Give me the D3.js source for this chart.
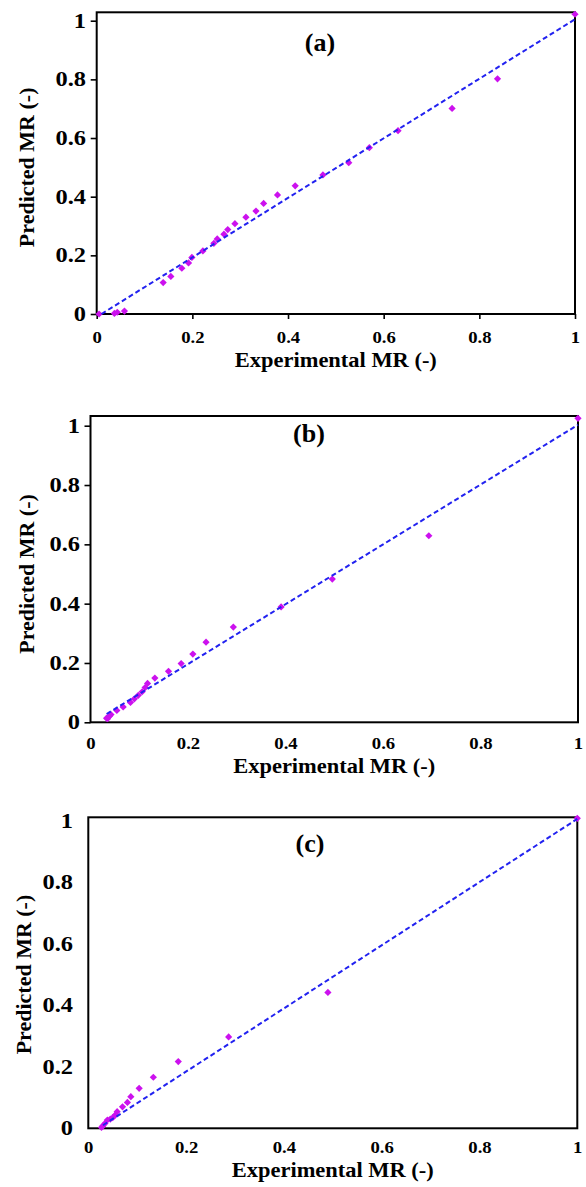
<!DOCTYPE html>
<html>
<head>
<meta charset="utf-8">
<script src="https://cdn.jsdelivr.net/npm/d3@7"></script>
<style>
  html, body { margin: 0; padding: 0; background: #fff; }
  svg text { font-family: "Liberation Serif", "Times New Roman", serif; font-weight: bold; fill: #000; }
</style>
</head>
<body>
<div id="chart"></div>
<script>
// Dados (MR experimental vs previsto)
const panelLabels = ['(a)', '(b)', '(c)'];
const xTickValues = [0, 0.2, 0.4, 0.6, 0.8, 1];
const yTickValues = [0, 0.2, 0.4, 0.6, 0.8, 1];
const xAxisTitle = 'Experimental MR (-)';
const yAxisTitle = 'Predicted MR (-)';

const expA = [0.005, 0.037, 0.043, 0.058, 0.139, 0.155, 0.178, 0.192, 0.199, 0.222, 0.245, 0.252,
  0.266, 0.274, 0.289, 0.312, 0.333, 0.349, 0.378, 0.415, 0.473, 0.527, 0.570, 0.630, 0.743, 0.838, 1.0];
const predA = [0.0, 0.002, 0.006, 0.010, 0.107, 0.128, 0.156, 0.174, 0.193, 0.215, 0.241, 0.256,
  0.272, 0.288, 0.308, 0.330, 0.351, 0.377, 0.406, 0.437, 0.474, 0.516, 0.567, 0.625, 0.701, 0.802, 1.022];

const expB = [0.033, 0.035, 0.039, 0.042, 0.054, 0.067, 0.082, 0.090, 0.098, 0.106, 0.112, 0.117,
  0.132, 0.160, 0.186, 0.210, 0.237, 0.293, 0.391, 0.496, 0.694, 1.0];
const predB = [0.014, 0.012, 0.021, 0.026, 0.040, 0.052, 0.067, 0.079, 0.091, 0.103, 0.117, 0.131,
  0.149, 0.172, 0.198, 0.230, 0.270, 0.321, 0.389, 0.483, 0.629, 1.025];

const expC = [0.027, 0.030, 0.034, 0.039, 0.045, 0.050, 0.055, 0.059, 0.070, 0.080, 0.087, 0.104,
  0.133, 0.184, 0.287, 0.490, 1.0];
const predC = [0.003, 0.008, 0.016, 0.027, 0.030, 0.035, 0.043, 0.054, 0.070, 0.084, 0.103, 0.130,
  0.166, 0.217, 0.297, 0.442, 1.008];

// Linhas de ajuste (extremos)
const fitXA = [0.01, 1];
const fitYA = [0.0, 1.005];
const fitXB = [0.033, 1];
const fitYB = [0.028, 1.003];
const fitXC = [0.03, 1];
const fitYC = [0.01, 1.006];

// Layout de cada painel (pixels)
const panels = [
  { label: panelLabels[0], ex: expA, pr: predA, fx: fitXA, fy: fitYA,
    left: 96.7, right: 575, y0: 314, y1: 20.7, top: 12.3,
    xTicks: true, yTicks: true, labelX: 320, labelY: 51,
    tickLabelY: 343, titleY: 367, yTickEnd: 86, yTitleX: 34 },
  { label: panelLabels[1], ex: expB, pr: predB, fx: fitXB, fy: fitYB,
    left: 90.5, right: 578, y0: 722.3, y1: 425.7, top: 416,
    xTicks: false, yTicks: true, labelX: 309, labelY: 442,
    tickLabelY: 749, titleY: 773, yTickEnd: 80, yTitleX: 34 },
  { label: panelLabels[2], ex: expC, pr: predC, fx: fitXC, fy: fitYC,
    left: 88.3, right: 577.3, y0: 1128.3, y1: 820.8, top: 817.3,
    xTicks: false, yTicks: false, labelX: 310, labelY: 852,
    tickLabelY: 1153, titleY: 1177, yTickEnd: 73, yTitleX: 31 }
];

const width = 586;
const height = 1187;
const yStretch = 1.22;  // rótulos do eixo y são mais largos na figura original
const xStretch = 1.1;

const svg = d3.select('#chart')
  .append('svg')
  .attr('width', width)
  .attr('height', height);

const fmt = d => (d === 0 || d === 1) ? String(d) : d.toFixed(1);

panels.forEach(p => {
  const x = d3.scaleLinear().domain([0, 1]).range([p.left, p.right]);
  const y = d3.scaleLinear().domain([0, 1]).range([p.y0, p.y1]);
  const g = svg.append('g');

  // Eixo y
  const yAxis = g.append('g')
    .attr('transform', `translate(${p.left},0)`)
    .call(d3.axisLeft(y).tickValues(yTickValues).tickFormat(fmt)
      .tickSize(p.yTicks ? 6 : 0));
  yAxis.select('.domain').remove();
  yAxis.selectAll('line').attr('stroke', '#000').attr('stroke-width', 1.6);
  yAxis.selectAll('text')
    .attr('font-size', 20)
    .attr('font-family', null)
    .attr('x', -(p.left - p.yTickEnd) / yStretch)
    .attr('transform', `scale(${yStretch},1)`);

  // Eixo x
  const xAxis = g.append('g')
    .attr('transform', `translate(0,${p.y0})`)
    .call(d3.axisBottom(x).tickValues(xTickValues).tickFormat(fmt)
      .tickSize(p.xTicks ? 5 : 0).tickPadding(0));
  xAxis.select('.domain').remove();
  xAxis.selectAll('line').attr('stroke', '#000').attr('stroke-width', 1.6);
  xAxis.selectAll('text')
    .attr('font-size', 17)
    .attr('font-family', null)
    .attr('dy', null)
    .attr('y', p.tickLabelY - p.y0)
    .attr('transform', `scale(${xStretch},1)`);

  // Moldura da área do gráfico
  g.append('rect')
    .attr('x', p.left)
    .attr('y', p.top)
    .attr('width', p.right - p.left)
    .attr('height', p.y0 - p.top)
    .attr('fill', 'none')
    .attr('stroke', '#000')
    .attr('stroke-width', 2);

  // Pontos
  const pts = p.ex.map((v, i) => ({ e: v, p: p.pr[i] }));
  g.append('g')
    .selectAll('path')
    .data(pts)
    .enter()
    .append('path')
    .attr('d', d3.symbol(d3.symbolSquare, 26))
    .attr('transform', d => `translate(${x(d.e)},${y(d.p)}) rotate(45)`)
    .attr('fill', '#cc11ee');

  // Linha de ajuste tracejada
  const fit = p.fx.map((v, i) => [v, p.fy[i]]);
  g.append('path')
    .datum(fit)
    .attr('d', d3.line().x(d => x(d[0])).y(d => y(d[1])))
    .attr('fill', 'none')
    .attr('stroke', '#2222f0')
    .attr('stroke-width', 2)
    .attr('stroke-dasharray', '5,3');

  // Rótulo do painel
  g.append('text')
    .attr('x', p.labelX)
    .attr('y', p.labelY)
    .attr('text-anchor', 'middle')
    .attr('font-size', 26)
    .text(p.label);

  // Títulos dos eixos
  g.append('text')
    .attr('x', (p.left + p.right) / 2)
    .attr('y', p.titleY)
    .attr('text-anchor', 'middle')
    .attr('font-size', 21)
    .attr('textLength', 202)
    .attr('lengthAdjust', 'spacingAndGlyphs')
    .text(xAxisTitle);

  g.append('text')
    .attr('transform', `translate(${p.yTitleX},${(p.y0 + p.y1) / 2}) rotate(-90)`)
    .attr('text-anchor', 'middle')
    .attr('font-size', 22)
    .text(yAxisTitle);
});
</script>
</body>
</html>
